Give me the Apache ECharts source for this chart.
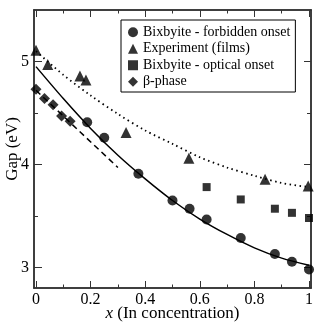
<!DOCTYPE html>
<html><head><meta charset="utf-8">
<script src="https://cdn.jsdelivr.net/npm/echarts@6/dist/echarts.min.js"></script>
<style>html,body{margin:0;padding:0;background:#fff}#c{width:319px;height:322px}</style>
</head><body><div id="c"></div>
<script>
// ---- data ----
const forbiddenX = [0.1875, 0.25, 0.375, 0.5, 0.5625, 0.625, 0.75, 0.875, 0.9375, 1.0];
const forbiddenY = [4.41, 4.26, 3.91, 3.65, 3.57, 3.465, 3.285, 3.13, 3.055, 2.98];
const experimentX = [0.0, 0.043, 0.161, 0.183, 0.33, 0.56, 0.839, 0.997];
const experimentY = [5.11, 4.97, 4.86, 4.82, 4.31, 4.06, 3.855, 3.79];
const opticalX = [0.625, 0.75, 0.875, 0.9375, 1.0];
const opticalY = [3.78, 3.66, 3.57, 3.53, 3.48];
const betaX = [0, 0.03125, 0.0625, 0.09375, 0.125];
const betaY = [4.73, 4.64, 4.58, 4.47, 4.42];
const fitX = [0, 0.1, 0.2, 0.3, 0.4, 0.5, 0.6, 0.7, 0.8, 0.9, 1.0];
const forbiddenFitY = [4.95, 4.64, 4.35, 4.09, 3.86, 3.65, 3.47, 3.32, 3.19, 3.09, 3.02];
const experimentFitY = [5.10, 4.87, 4.67, 4.49, 4.33, 4.20, 4.07, 3.97, 3.89, 3.82, 3.78];
const betaFitX = [0, 0.3];
const betaFitY = [4.72, 3.97];
const xMajorTicks = [0, 0.2, 0.4, 0.6, 0.8, 1];
const xMinorTicks = [0.1, 0.3, 0.5, 0.7, 0.9];
const yMajorTicks = [3, 4, 5];
const yMinorTicks = [3.5, 4.5];
const seriesNames = ['Bixbyite - forbidden onset', 'Experiment (films)', 'Bixbyite - optical onset', 'β-phase'];
const xTitle = 'x';
const xTitleRest = ' (In concentration)';
const yTitle = 'Gap (eV)';

// ---- chart ----
const FONT = 'Liberation Serif';
const AX = '#333';
const X_MIN = -0.0073, X_MAX = 1.0073, Y_MIN = 2.8, Y_MAX = 5.5;
const zip = (xs, ys) => xs.map((x, i) => [x, ys[i]]);

function xAx(pos, ticks, len, labels, extra) {
  return Object.assign({
    type: 'value', position: pos, min: X_MIN, max: X_MAX,
    axisLine: { show: true, onZero: false, lineStyle: { color: AX, width: 1.5 } },
    axisTick: { show: true, inside: true, length: len, customValues: ticks, lineStyle: { color: AX, width: 1 } },
    axisLabel: labels ? { show: true, customValues: ticks, margin: 4, fontFamily: FONT, fontSize: 16, color: '#000' } : { show: false },
    splitLine: { show: false }
  }, extra || {});
}
function yAx(pos, ticks, len, labels, extra) {
  return Object.assign({
    type: 'value', position: pos, min: Y_MIN, max: Y_MAX,
    axisLine: { show: true, onZero: false, lineStyle: { color: AX, width: 1.5 } },
    axisTick: { show: true, inside: true, length: len, customValues: ticks, lineStyle: { color: AX, width: 1 } },
    axisLabel: labels ? { show: true, customValues: ticks, margin: 5, fontFamily: FONT, fontSize: 16, color: '#000' } : { show: false },
    splitLine: { show: false }
  }, extra || {});
}

const option = {
  animation: false,
  backgroundColor: '#fff',
  grid: { left: 34, right: 8, top: 10, bottom: 34, containLabel: false, outerBoundsMode: 'none' },
  legend: {
    orient: 'vertical', left: 121, top: 20,
    padding: [4, 5, 2, 7],
    borderColor: '#000', borderWidth: 1, borderRadius: 0,
    itemWidth: 10, itemHeight: 10, itemGap: 0,
    textStyle: { fontFamily: FONT, fontSize: 14, color: '#000', lineHeight: 16.5 },
    data: seriesNames
  },
  xAxis: [
    xAx('bottom', xMajorTicks, 7, true, {
      name: '{i|' + xTitle + '}' + xTitleRest, nameLocation: 'middle', nameGap: 17, nameMoveOverlap: false,
      nameTextStyle: { fontFamily: FONT, fontSize: 17, color: '#000',
        rich: { i: { fontFamily: FONT, fontSize: 17, fontStyle: 'italic', color: '#000' } } }
    }),
    xAx('bottom', xMinorTicks, 3.5, false),
    xAx('top', xMajorTicks, 7, false),
    xAx('top', xMinorTicks, 3.5, false)
  ],
  yAxis: [
    yAx('left', yMajorTicks, 8, true, {
      name: yTitle, nameLocation: 'middle', nameGap: 13, nameRotate: 90, nameMoveOverlap: false,
      nameTextStyle: { fontFamily: FONT, fontSize: 17, color: '#000' }
    }),
    yAx('left', yMinorTicks, 4, false),
    yAx('right', yMajorTicks, 7, false),
    yAx('right', yMinorTicks, 4, false)
  ],
  series: [
    { type: 'line', data: zip(fitX, forbiddenFitY), smooth: 0.3, showSymbol: false, symbol: 'none',
      lineStyle: { color: '#000', width: 1.5, type: 'solid' }, z: 1 },
    { type: 'line', data: zip(fitX, experimentFitY), smooth: 0.3, showSymbol: false, symbol: 'none',
      lineStyle: { color: '#000', width: 1.8, type: [1.5, 3.5] }, z: 1 },
    { type: 'line', data: zip(betaFitX, betaFitY), showSymbol: false, symbol: 'none',
      lineStyle: { color: '#000', width: 1.5, type: [6, 4] }, z: 1 },
    { name: seriesNames[0], type: 'scatter', data: zip(forbiddenX, forbiddenY), symbol: 'circle', symbolSize: 10,
      itemStyle: { color: '#000' }, z: 3 },
    { name: seriesNames[1], type: 'scatter', data: zip(experimentX, experimentY), symbol: 'triangle', symbolSize: 11,
      itemStyle: { color: '#000' }, z: 3 },
    { name: seriesNames[2], type: 'scatter', data: zip(opticalX, opticalY), symbol: 'rect', symbolSize: 8,
      itemStyle: { color: '#000' }, z: 3 },
    { name: seriesNames[3], type: 'scatter', data: zip(betaX, betaY), symbol: 'diamond', symbolSize: 11,
      itemStyle: { color: '#000' }, z: 3 }
  ]
};
const chart = echarts.init(document.getElementById('c'), null, { renderer: 'canvas' });
chart.setOption(option);
</script>
</body></html>
